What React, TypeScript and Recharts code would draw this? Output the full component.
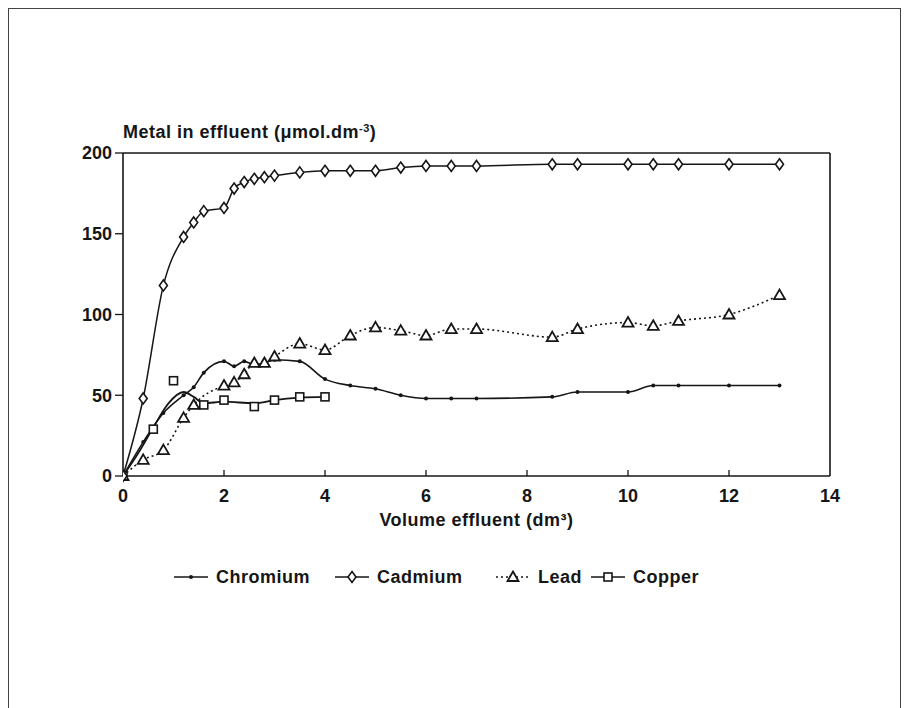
import React from "react";
import { ComposedChart, Line, XAxis, YAxis, ReferenceLine } from "recharts";

// values
const chromiumVolume = [0, 0.4, 0.8, 1.2, 1.4, 1.6, 2.0, 2.2, 2.4, 2.6, 2.8, 3.0, 3.5, 4.0, 4.5, 5.0, 5.5, 6.0, 6.5, 7.0, 8.5, 9.0, 10, 10.5, 11, 12, 13];
const chromiumMetal = [0, 21, 39, 50, 55, 64, 71, 68, 71, 69, 70, 72, 71, 60, 56, 54, 50, 48, 48, 48, 49, 52, 52, 56, 56, 56, 56];

const cadmiumVolume = [0, 0.4, 0.8, 1.2, 1.4, 1.6, 2.0, 2.2, 2.4, 2.6, 2.8, 3.0, 3.5, 4.0, 4.5, 5.0, 5.5, 6.0, 6.5, 7.0, 8.5, 9.0, 10, 10.5, 11, 12, 13];
const cadmiumMetal = [0, 48, 118, 148, 157, 164, 166, 178, 182, 184, 185, 186, 188, 189, 189, 189, 191, 192, 192, 192, 193, 193, 193, 193, 193, 193, 193];

const leadVolume = [0, 0.4, 0.8, 1.2, 1.4, 2.0, 2.2, 2.4, 2.6, 2.8, 3.0, 3.5, 4.0, 4.5, 5.0, 5.5, 6.0, 6.5, 7.0, 8.5, 9.0, 10, 10.5, 11, 12, 13];
const leadMetal = [0, 10, 16, 36, 44, 56, 58, 63, 70, 70, 74, 82, 78, 87, 92, 90, 87, 91, 91, 86, 91, 95, 93, 96, 100, 112];

const copperVolume = [0, 0.6, 1.0, 1.6, 2.0, 2.6, 3.0, 3.5, 4.0];
const copperMetal = [0, 29, 59, 44, 47, 43, 47, 49, 49];

// drawn copper curve (smoothed through the points in the figure)
const copperCurveVolume = [0, 0.3, 0.6, 0.9, 1.2, 1.4, 1.6, 2.0, 2.6, 3.0, 3.5, 4.0];
const copperCurveMetal = [0, 14, 30, 45, 52, 49, 45, 46, 45, 47, 48.5, 49];

const xTicks = [0, 2, 4, 6, 8, 10, 12, 14];
const yTicks = [0, 50, 100, 150, 200];

const toRows = (xs: number[], ys: number[]) => xs.map((v, i) => ({ volume: v, metal: ys[i] }));

const chromium = toRows(chromiumVolume, chromiumMetal);
const cadmium = toRows(cadmiumVolume, cadmiumMetal);
const lead = toRows(leadVolume, leadMetal);
const copper = toRows(copperVolume, copperMetal);
const copperCurve = toRows(copperCurveVolume, copperCurveMetal);

const INK = "#161616";
const FONT = "'Liberation Sans', Arial, sans-serif";
const X_MARGIN = 13;

const SmallDot = (p: any) => {
  if (p.cx == null || p.cy == null) return <g key={`c-${p.index}`} />;
  return <circle key={`c-${p.index}`} cx={p.cx} cy={p.cy} r={2} fill={INK} />;
};

const Diamond = (p: any) => {
  if (p.cx == null || p.cy == null) return <g key={`d-${p.index}`} />;
  const { cx, cy } = p;
  return (
    <path
      key={`d-${p.index}`}
      d={`M${cx},${cy - 5.5}L${cx + 4},${cy}L${cx},${cy + 5.5}L${cx - 4},${cy}Z`}
      fill="#fff"
      stroke={INK}
      strokeWidth={1.6}
    />
  );
};

const Triangle = (p: any) => {
  if (p.cx == null || p.cy == null) return <g key={`t-${p.index}`} />;
  const { cx, cy } = p;
  return (
    <path
      key={`t-${p.index}`}
      d={`M${cx},${cy - 5.5}L${cx + 5.5},${cy + 4}L${cx - 5.5},${cy + 4}Z`}
      fill="#fff"
      stroke={INK}
      strokeWidth={1.8}
    />
  );
};

const Square = (p: any) => {
  if (p.cx == null || p.cy == null) return <g key={`s-${p.index}`} />;
  const { cx, cy } = p;
  return (
    <rect
      key={`s-${p.index}`}
      x={cx - 4}
      y={cy - 4}
      width={8}
      height={8}
      fill="#fff"
      stroke={INK}
      strokeWidth={1.6}
    />
  );
};

// x ticks point into the plot, labels below
const XTick = (p: any) => {
  const { x, y, payload } = p;
  const axisY = y - X_MARGIN;
  const inner = payload.value > 0 && payload.value < 14;
  return (
    <g>
      {inner && <line x1={x} x2={x} y1={axisY} y2={axisY - 6} stroke={INK} strokeWidth={1.3} />}
      <text x={x} y={y} dy="0.71em" textAnchor="middle" fill={INK} fontFamily={FONT} fontWeight={700} fontSize={18}>
        {payload.value}
      </text>
    </g>
  );
};

const LegendIcon = ({ kind }: { kind: string }) => {
  const cx = 19;
  const cy = 8;
  return (
    <svg width={38} height={16} style={{ display: "block" }}>
      <line
        x1={2}
        x2={36}
        y1={cy}
        y2={cy}
        stroke={INK}
        strokeWidth={1.6}
        strokeDasharray={kind === "lead" ? "2 3" : undefined}
      />
      {kind === "chromium" && <circle cx={cx} cy={cy} r={2} fill={INK} />}
      {kind === "cadmium" && <Diamond cx={cx} cy={cy} index={0} />}
      {kind === "lead" && <Triangle cx={cx} cy={cy} index={0} />}
      {kind === "copper" && <Square cx={cx} cy={cy} index={0} />}
    </svg>
  );
};

const legendItems = [
  { kind: "chromium", label: "Chromium", left: 172 },
  { kind: "cadmium", label: "Cadmium", left: 333 },
  { kind: "lead", label: "Lead", left: 494 },
  { kind: "copper", label: "Copper", left: 589 },
];

const textStyle: React.CSSProperties = {
  position: "absolute",
  fontFamily: FONT,
  fontWeight: 700,
  fontSize: 18,
  color: INK,
  letterSpacing: 0.5,
  whiteSpace: "nowrap",
  lineHeight: "20px",
};

export default function App() {
  return (
    <div style={{ position: "absolute", left: 0, top: 0, width: 909, height: 708, background: "#fff", overflow: "hidden" }}>
      <div
        style={{
          position: "absolute",
          left: 8,
          top: 8,
          width: 891,
          height: 720,
          borderTop: "1px solid #444",
          borderLeft: "1.5px solid #444",
          borderRight: "1px solid #444",
        }}
      />
      <div style={{ ...textStyle, left: 123, top: 118 }}>
        Metal in effluent (μmol.dm<sup style={{ fontSize: 11, verticalAlign: "6px" }}>-3</sup>)
      </div>
      <div style={{ position: "absolute", left: 0, top: 0 }}>
        <ComposedChart width={909} height={708} margin={{ top: 153, right: 79, left: 63, bottom: 202 }}>
          <XAxis
            dataKey="volume"
            type="number"
            domain={[0, 14]}
            ticks={xTicks}
            allowDataOverflow
            height={30}
            stroke={INK}
            axisLine={{ stroke: INK, strokeWidth: 1.6 }}
            tickLine={false}
            tickSize={0}
            tickMargin={X_MARGIN}
            tick={<XTick />}
          />
          <YAxis
            type="number"
            domain={[0, 200]}
            ticks={yTicks}
            width={60}
            axisLine={{ stroke: INK, strokeWidth: 1.6 }}
            tickLine={{ stroke: INK, strokeWidth: 1.3 }}
            tickSize={8}
            tickMargin={3}
            tick={{ fill: INK, fontFamily: FONT, fontWeight: 700, fontSize: 18 }}
          />
          <ReferenceLine y={200} stroke={INK} strokeWidth={1.6} />
          <ReferenceLine x={14} stroke={INK} strokeWidth={1.6} />
          <Line
            data={copperCurve}
            dataKey="metal"
            type="monotone"
            stroke={INK}
            strokeWidth={1.8}
            dot={false}
            isAnimationActive={false}
          />
          <Line
            data={copper}
            dataKey="metal"
            stroke="none"
            dot={Square}
            isAnimationActive={false}
          />
          <Line
            data={chromium}
            dataKey="metal"
            type="monotone"
            stroke={INK}
            strokeWidth={1.6}
            dot={SmallDot}
            isAnimationActive={false}
          />
          <Line
            data={lead}
            dataKey="metal"
            type="monotone"
            stroke={INK}
            strokeWidth={1.6}
            strokeDasharray="2 3"
            dot={Triangle}
            isAnimationActive={false}
          />
          <Line
            data={cadmium}
            dataKey="metal"
            type="monotone"
            stroke={INK}
            strokeWidth={1.5}
            dot={Diamond}
            isAnimationActive={false}
          />
        </ComposedChart>
      </div>
      <div style={{ ...textStyle, left: 123, width: 707, top: 510, textAlign: "center" }}>
        Volume effluent (dm³)
      </div>
      {legendItems.map((it) => (
        <div key={it.kind} style={{ ...textStyle, left: it.left, top: 567, display: "flex", alignItems: "center", gap: 6 }}>
          <LegendIcon kind={it.kind} />
          <span>{it.label}</span>
        </div>
      ))}
    </div>
  );
}
